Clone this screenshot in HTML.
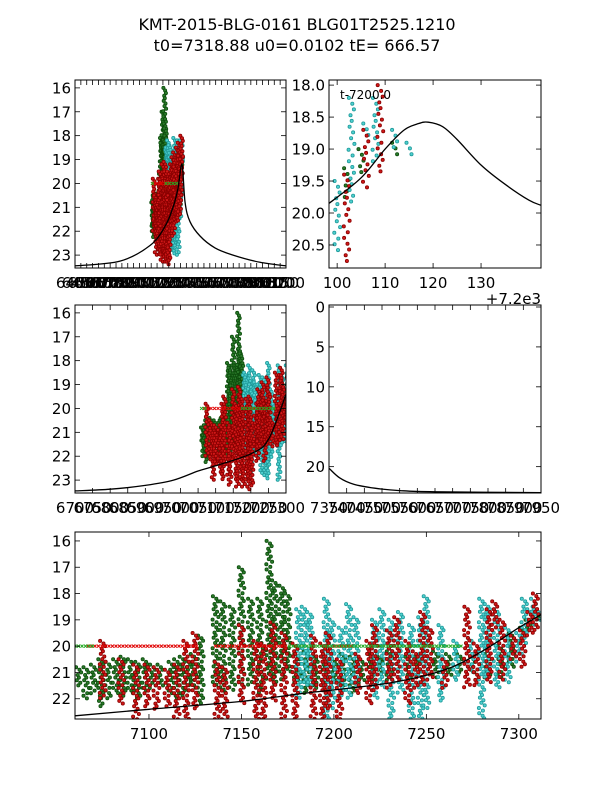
<!DOCTYPE html>
<html><head><meta charset="utf-8">
<style>
html,body{margin:0;padding:0;background:#fff;}
svg{display:block;}
text{font-family:"DejaVu Sans","Liberation Sans",sans-serif;}
</style></head>
<body>
<svg id="fig" width="600" height="800" viewBox="0 0 600 800" xmlns="http://www.w3.org/2000/svg">
<rect width="600" height="800" fill="#fff"/>
<text x="297" y="30" text-anchor="middle" font-size="16">KMT-2015-BLG-0161 BLG01T2525.1210</text>
<text x="297" y="51" text-anchor="middle" font-size="16">t0=7318.88 u0=0.0102 tE= 666.57</text>
</svg>
<script>
// ---- data: streaks [time, magTop, magBottom] ----
const greenStreaks = [[7062,20.8,21.5],[7066,20.8,22.0],[7070,20.7,21.8],[7074,20.5,22.3],[7078,20.6,22.0],[7082,20.5,21.8],[7086,20.4,21.9],[7090,20.5,21.8],[7094,20.6,22.0],[7098,20.5,21.7],[7102,20.7,21.6],[7106,20.7,21.5],[7112,20.6,21.8],[7115,20.5,22.0],[7118,20.4,21.9],[7121,20.5,21.7],[7124,20.3,21.6],[7128,19.6,22.2],[7136,18.1,21.5],[7140,18.3,21.8],[7145,18.5,21.7],[7150,17.0,21.6],[7155,18.2,21.5],[7160,18.2,21.8],[7165,16.0,21.3],[7168,17.5,21.5],[7172,17.7,21.3],[7175,18.0,21.0],[7180,20.3,21.4],[7185,20.2,21.8],[7190,20.4,21.6],[7195,20.4,21.5],[7200,20.5,21.4],[7205,20.3,21.5],[7210,20.4,21.8],[7215,20.5,21.4],[7220,20.3,21.3],[7225,20.4,21.0],[7230,20.2,21.3],[7240,20.4,21.2],[7245,20.4,21.0],[7255,20.2,21.2],[7262,20.3,21.1],[7268,20.3,21.0],[7275,20.4,21.0],[7283,20.3,21.2],[7290,20.0,21.2],[7296,19.5,20.8],[7302,19.3,19.8],[7305,19.0,19.4],[7312,18.9,19.1]];
const cyanStreaks = [[7181,18.6,22.0],[7184,18.5,21.6],[7187,18.7,21.5],[7196,18.2,23.0],[7199,19.0,22.4],[7204,19.3,21.9],[7208,18.4,22.0],[7212,18.9,21.5],[7222,19.0,22.0],[7226,18.6,21.6],[7231,19.0,22.8],[7236,18.7,21.8],[7242,19.2,22.9],[7247,18.9,23.0],[7250,18.1,22.4],[7258,19.2,22.1],[7266,19.8,21.3],[7274,19.7,21.0],[7280,18.2,23.0],[7283,18.4,21.3],[7288,18.6,21.6],[7294,19.3,21.4],[7300,19.5,20.6],[7303,18.2,19.9],[7306,18.6,18.8],[7308,18.2,19.2],[7312,18.7,19.0],[7315,18.9,19.1]];
const redStreaks = [[7075,19.8,22.0],[7085,20.5,22.2],[7093,20.7,23.0],[7099,20.7,22.3],[7104,20.8,22.4],[7110,20.9,22.3],[7115,20.7,22.8],[7120,19.8,23.0],[7125,19.5,22.4],[7137,20.6,22.8],[7141,20.8,23.3],[7150,19.2,22.2],[7158,19.8,23.0],[7162,19.9,23.3],[7167,19.1,22.1],[7173,19.5,23.0],[7179,19.9,23.3],[7189,19.6,23.0],[7194,19.9,23.4],[7197,19.5,22.4],[7203,20.5,23.3],[7213,20.3,21.8],[7219,19.8,22.2],[7222,19.2,21.7],[7230,19.4,21.6],[7234,18.9,21.3],[7240,19.8,22.2],[7244,20.2,21.6],[7248,18.7,21.5],[7252,19.3,21.3],[7260,20.5,21.6],[7272,18.5,21.6],[7277,19.9,21.5],[7284,18.6,21.4],[7287,18.3,19.4],[7291,19.0,21.3],[7297,19.6,20.5],[7302,19.4,20.8],[7306,18.7,19.6],[7309,18.0,19.4]];
// x-marker runs at fixed magnitude [tStart, tEnd, mag]
const redXRuns = [[7067,7127,20.0],[7136,7175,20.0],[7200,7210,20.0]];
const greenXRuns = [[7060,7070,20.0],[7176,7270,20.0]];
// model curves [time, mag]
const modelA = [[6400,23.45],[6784,23.25],[7040,22.6],[7168,21.8],[7236,21.0],[7279,20.2],[7313,19.2],[7339,20.8],[7381,21.6],[7466,22.2],[7594,22.7],[7748,23.0],[7978,23.3],[8200,23.45]];
const modelB = [[7298.3,19.85],[7305,19.45],[7310,19.0],[7314,18.7],[7317,18.6],[7319,18.58],[7322,18.65],[7325,18.85],[7330,19.25],[7335,19.55],[7340,19.8],[7342.5,19.88]];
const modelC = [[6700,23.45],[6800,23.38],[6900,23.22],[6980,23.0],[7050,22.62],[7100,22.4],[7200,21.9],[7250,21.3],[7300,19.4]];
const modelD = [[7350,20.2],[7380,21.4],[7420,22.2],[7480,22.7],[7550,23.0],[7650,23.15],[7950,23.25]];
const modelE = [[7060,22.65],[7100,22.4],[7150,22.1],[7183,21.8],[7230,21.4],[7260,20.9],[7280,20.2],[7300,19.3],[7312,18.8]];
// tick labels
const ticksA_x = []; for (let v=6400; v<=8200; v+=50) ticksA_x.push(v);
const ticksC_x = []; for (let v=6700; v<=7300; v+=50) ticksC_x.push(v);
const ticksD_x = []; for (let v=7350; v<=7950; v+=50) ticksD_x.push(v);
const ticksB_x = [100,110,120,130];
const ticksE_x = [7100,7150,7200,7250,7300];
const ticksAC_y = [16,17,18,19,20,21,22,23];
const ticksB_y = [18.0,18.5,19.0,19.5,20.0,20.5];
const ticksD_y = [0,5,10,15,20];
const ticksE_y = [16,17,18,19,20,21,22];

const NS = 'http://www.w3.org/2000/svg';
const svg = document.getElementById('fig');
function mk(tag, attrs, parent){ const e=document.createElementNS(NS,tag); for(const k in attrs) e.setAttribute(k,attrs[k]); (parent||svg).appendChild(e); return e; }
function smoothPath(P){
  let d = `M${P[0][0].toFixed(1)},${P[0][1].toFixed(1)}`;
  for (let i=0;i<P.length-1;i++){
    const p0=P[Math.max(0,i-1)], p1=P[i], p2=P[i+1], p3=P[Math.min(P.length-1,i+2)];
    const c1=[p1[0]+(p2[0]-p0[0])/6, p1[1]+(p2[1]-p0[1])/6];
    const c2=[p2[0]-(p3[0]-p1[0])/6, p2[1]-(p3[1]-p1[1])/6];
    d += ` C${c1[0].toFixed(1)},${c1[1].toFixed(1)} ${c2[0].toFixed(1)},${c2[1].toFixed(1)} ${p2[0].toFixed(1)},${p2[1].toFixed(1)}`;
  }
  return d;
}

const panels = [
 {id:'a', x0:75,x1:286,y0:80,y1:268, tmin:6400,tmax:8200, mtop:15.67,mbot:23.54, model:modelA, xt:ticksA_x, yt:ticksAC_y, xOff:0, dec:0, data:true},
 {id:'b', x0:329,x1:541,y0:80,y1:268, tmin:7298.3,tmax:7342.5, mtop:17.92,mbot:20.86, model:modelB, xt:ticksB_x, yt:ticksB_y, xOff:7200, dec:1, data:true},
 {id:'c', x0:75,x1:286,y0:305,y1:493, tmin:6700,tmax:7300, mtop:15.67,mbot:23.54, model:modelC, xt:ticksC_x, yt:ticksAC_y, xOff:0, dec:0, data:true},
 {id:'d', x0:329,x1:541,y0:305,y1:493, tmin:7350,tmax:7950, mtop:-0.25,mbot:23.3, model:modelD, xt:ticksD_x, yt:ticksD_y, xOff:0, dec:0, data:false},
 {id:'e', x0:75,x1:541,y0:532,y1:719, tmin:7060,tmax:7312, mtop:15.66,mbot:22.77, model:modelE, xt:ticksE_x, yt:ticksE_y, xOff:0, dec:0, data:true}
];
const defs = mk('defs',{});
const series = [
 {s:greenStreaks, fill:'#2a7a2a', edge:'#0d4d0d', name:'green'},
 {s:cyanStreaks, fill:'#4fd0d0', edge:'#1f9a9a', name:'cyan'},
 {s:redStreaks, fill:'#d01818', edge:'#8a0000', name:'red'}
];
const jit = [-2.6,0.8,2.4,-1.0,0.2,-1.9,1.6,-0.4,2.9,-2.9,1.1];

panels.forEach(p=>{
  const X = t => p.x0 + (t - p.tmin)/(p.tmax-p.tmin)*(p.x1-p.x0);
  const Y = m => p.y0 + (m - p.mtop)/(p.mbot-p.mtop)*(p.y1-p.y0);
  const pxPerMag = (p.y1-p.y0)/(p.mbot-p.mtop);
  const pxPerDay = (p.x1-p.x0)/(p.tmax-p.tmin);
  const jScale = Math.min(1, pxPerDay*1.2);
  const step = Math.max(2.6, pxPerMag*0.09);
  const cp = mk('clipPath',{id:'clip-'+p.id},defs);
  mk('rect',{x:p.x0,y:p.y0,width:p.x1-p.x0,height:p.y1-p.y0},cp);
  const g = mk('g',{'clip-path':'url(#clip-'+p.id+')'});
  
  
  if (p.data){
    series.forEach(se=>{
      const sg = mk('g',{fill:se.fill,stroke:se.edge,'stroke-width':0.8},g);
      
      
      se.s.forEach(st=>{
        const xc = X(st[0]);
        if (xc < p.x0-10 || xc > p.x1+10) return;
        const ya = Y(st[1]), yb = Y(st[2]);
        let k=0;
        for (let y=ya; y<=yb+0.01; y+=step){
          const c = mk('circle',{cx:(xc+jit[k%11]*Math.max(jScale,0.5)).toFixed(1),cy:y.toFixed(1),r:1.6},sg);
          
          
          k++;
        }
      });
    });
    [[redXRuns,'#e00000','red-x-markers'],[greenXRuns,'#22aa22','green-x-markers']].forEach(([runs,col,nm])=>{
      const xg = mk('g',{stroke:col,'stroke-width':1},g);
      
      
      runs.forEach(r=>{
        const xa=X(r[0]), xb=X(r[1]), y=Y(r[2]);
        for (let x=xa; x<=xb; x+=3.5){
          mk('path',{d:`M${x-1.5},${y-1.5}L${x+1.5},${y+1.5}M${x-1.5},${y+1.5}L${x+1.5},${y-1.5}`},xg);
        }
      });
    });
  }
  const pts = p.model.map(d=>[X(d[0]),Y(d[1])]);
  const ml = mk('path',{d:smoothPath(pts),fill:'none',stroke:'#000','stroke-width':1.3},g);
  
  
  const fr = mk('rect',{x:p.x0,y:p.y0,width:p.x1-p.x0,height:p.y1-p.y0,fill:'none',stroke:'#000','stroke-width':1});
  
  
  const tg = mk('g',{stroke:'#000','stroke-width':0.8});
  
  
  const lg = mk('g',{'font-size':15,fill:'#000'});
  
  
  p.xt.forEach(v=>{
    const x = X(v + p.xOff);
    mk('line',{x1:x,x2:x,y1:p.y1,y2:p.y1-5},tg);
    mk('line',{x1:x,x2:x,y1:p.y0,y2:p.y0+5},tg);
    const t = mk('text',{x:x,y:p.y1+20,'text-anchor':'middle'},lg);
    t.textContent = String(v);
    
    
  });
  p.yt.forEach(v=>{
    const y = Y(v);
    mk('line',{x1:p.x0,x2:p.x0+5,y1:y,y2:y},tg);
    mk('line',{x1:p.x1,x2:p.x1-5,y1:y,y2:y},tg);
    const t = mk('text',{x:p.x0-4,y:y+5.5,'text-anchor':'end'},lg);
    t.textContent = p.dec ? v.toFixed(1) : String(v);
    
    
  });
});
const ann = mk('text',{x:340,y:99,'font-size':12});
ann.textContent = 't-7200.0';


const off = mk('text',{x:541,y:304,'font-size':15,'text-anchor':'end'});
off.textContent = '+7.2e3';


</script>
</body></html>
